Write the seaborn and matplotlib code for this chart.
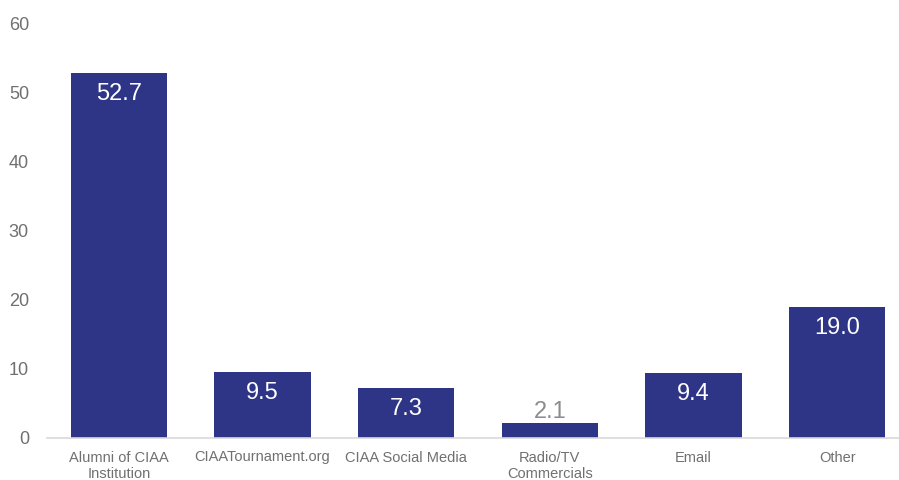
import matplotlib
matplotlib.use("Agg")
import matplotlib.pyplot as plt
import seaborn as sns
import pandas as pd

categories = ["Alumni of CIAA\nInstitution", "CIAATournament.org", "CIAA Social Media",
              "Radio/TV\nCommercials", "Email", "Other"]
values = [52.7, 9.5, 7.3, 2.1, 9.4, 19.0]
yticks = [0, 10, 20, 30, 40, 50, 60]

df = pd.DataFrame({"category": categories, "value": values})

sns.set_theme(style="white")
plt.rcParams["font.family"] = ["Liberation Sans", "DejaVu Sans"]

fig = plt.figure(figsize=(8.99, 4.8), dpi=100)
ax = fig.add_axes([47 / 899, 42 / 480, 1 - 47 / 899, 1 - 42 / 480 - 23 / 480])

bar_color = "#2E3587"
sns.barplot(data=df, x="category", y="value", color=bar_color, width=0.67,
            saturation=1, ax=ax, edgecolor="none")

ax.set_ylim(0, 60)
ax.set_xlim(-0.5, 5.43)
ax.set_yticks(yticks)
ax.set_yticklabels([str(t) for t in yticks])
ax.set_xlabel("")
ax.set_ylabel("")

for s in ["top", "right", "left"]:
    ax.spines[s].set_visible(False)
ax.spines["bottom"].set_color("#D9D9D9")
ax.spines["bottom"].set_linewidth(1.2)

ax.tick_params(axis="y", length=0, pad=13, labelsize=13, labelcolor="#707070")
ax.tick_params(axis="x", length=0, pad=9, labelsize=10.5, labelcolor="#707070")
for lbl in ax.get_xticklabels():
    lbl.set_linespacing(1.2)

for i, v in enumerate(values):
    if v > 5:
        ax.annotate(f"{v:.1f}", (i, v), xytext=(0, -21), textcoords="offset pixels",
                    ha="center", va="center", color="white", fontsize=17)
    else:
        ax.annotate(f"{v:.1f}", (i, v), xytext=(0, 11), textcoords="offset pixels",
                    ha="center", va="center", color="#8C8C8C", fontsize=17)

fig.savefig("out.png", dpi=100)
